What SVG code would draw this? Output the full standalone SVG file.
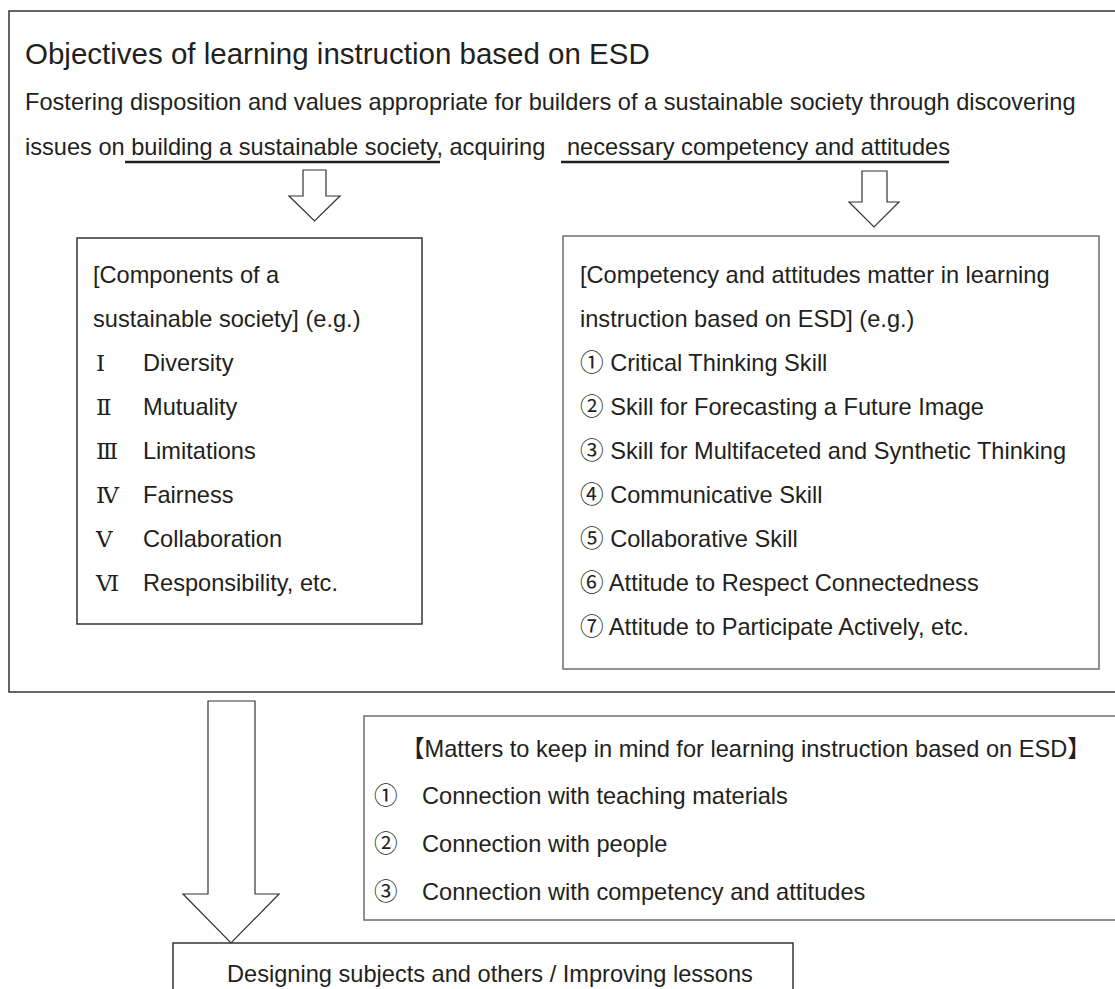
<svg xmlns="http://www.w3.org/2000/svg" width="1115" height="989" viewBox="0 0 1115 989">
<style>
text{font-family:"Liberation Sans","Noto Sans CJK JP",sans-serif;fill:#231f20;font-size:23.6px}
.title{font-size:29.5px}
.box{fill:#fff;stroke:#333;stroke-width:1.5}
.gbox{fill:#fff;stroke:#6e6e6e;stroke-width:1.5}
.arr{fill:#fff;stroke:#333;stroke-width:1.2;stroke-linejoin:miter}
.ul{stroke:#231f20;stroke-width:2.5}
.rn{font-family:"DejaVu Serif","Noto Serif CJK JP",serif;font-size:23px}
</style>
<rect width="1115" height="989" fill="#fff"/>
<g id="objectives">
<rect class="box" x="9" y="11" width="1120" height="681"/>
<text class="title" x="25" y="64">Objectives of learning instruction based on ESD</text>
<text x="25" y="110">Fostering disposition and values appropriate for builders of a sustainable society through discovering</text>
<text x="25" y="155">issues on building a sustainable society, acquiring <tspan x="567">necessary competency and attitudes</tspan></text>
</g>
<g id="connectors">
<line class="ul" x1="125" y1="162" x2="440" y2="162"/>
<line class="ul" x1="561" y1="162" x2="949" y2="162"/>
<path class="arr" d="M303,170 H326 V196 H340 L314.5,221 L289,196 H303 Z"/>
<path class="arr" d="M862,171 H887 V202 H899 L874,227 L849,202 H862 Z"/>
<path class="arr" d="M208,701 H255 V894 H279 L231,943 L183,894 H208 Z"/>
</g>
<g id="components">
<rect class="box" x="77" y="238" width="345" height="386"/>
<text x="93" y="283">[Components of a</text>
<text x="93" y="327">sustainable society] (e.g.)</text>
<text class="rn" x="96" y="371">Ⅰ</text><text x="143" y="371">Diversity</text>
<text class="rn" x="96" y="415">Ⅱ</text><text x="143" y="415">Mutuality</text>
<text class="rn" x="96" y="459">Ⅲ</text><text x="143" y="459">Limitations</text>
<text class="rn" x="96" y="503">Ⅳ</text><text x="143" y="503">Fairness</text>
<text class="rn" x="96" y="547">Ⅴ</text><text x="143" y="547">Collaboration</text>
<text class="rn" x="96" y="591">Ⅵ</text><text x="143" y="591">Responsibility, etc.</text>
</g>
<g id="competency">
<rect class="gbox" x="563" y="236" width="536" height="433"/>
<text x="580" y="283">[Competency and attitudes matter in learning</text>
<text x="580" y="327">instruction based on ESD] (e.g.)</text>
<text x="580" y="371">① Critical Thinking Skill</text>
<text x="580" y="415">② Skill for Forecasting a Future Image</text>
<text x="580" y="459">③ Skill for Multifaceted and Synthetic Thinking</text>
<text x="580" y="503">④ Communicative Skill</text>
<text x="580" y="547">⑤ Collaborative Skill</text>
<text x="580" y="591">⑥ Attitude to Respect Connectedness</text>
<text x="580" y="635">⑦ Attitude to Participate Actively, etc.</text>
</g>
<g id="matters">
<rect class="gbox" x="364" y="716" width="760" height="204"/>
<text x="401" y="757">【Matters to keep in mind for learning instruction based on ESD】</text>
<text x="374" y="804">①</text><text x="422" y="804">Connection with teaching materials</text>
<text x="374" y="852">②</text><text x="422" y="852">Connection with people</text>
<text x="374" y="900">③</text><text x="422" y="900">Connection with competency and attitudes</text>
</g>
<g id="designing">
<rect class="box" x="173" y="943" width="620" height="60"/>
<text x="227" y="982">Designing subjects and others / Improving lessons</text>
</g>
</svg>
